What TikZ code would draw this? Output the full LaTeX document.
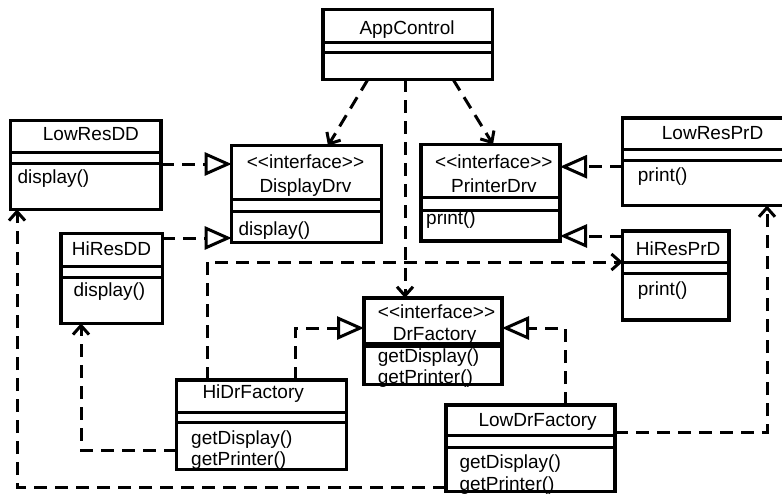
\documentclass[tikz,border=0pt]{standalone}
\usepackage{fontspec}
\setmainfont{Liberation Sans}
\usetikzlibrary{arrows.meta}

% class box: name, left, top, right, bottom (y grows downwards)
\newcommand{\umlclass}[5]{%
  \node[classbox, minimum width={#4-#2}, minimum height={#5-#3}, anchor=north west] (#1) at (#2,#3) {};}
% compartment separator across a class box at height #2
\newcommand{\umlsep}[2]{%
  \draw[sepline] (#1.west |- 0,#2) -- (#1.east |- 0,#2);}
% stereotype, with the angle brackets kept apart (no guillemet ligature)
\newcommand{\stereoif}{<\kern0pt<interface>\kern0pt>}

\tikzset{
  classbox/.style={draw, line width=3.2pt, inner sep=0pt, outer sep=0pt},
  sepline/.style={line width=3pt},
  lbl/.style={font=\fontsize{19}{22}\selectfont, inner sep=0pt, anchor=base west},
  dep/.style={line width=3pt, dash pattern=on 13pt off 8pt,
    -{Straight Barb[length=9pt,width=16pt]}},
  real/.style={line width=3pt, dash pattern=on 13pt off 8pt,
    -{Triangle[open, length=27pt, width=23pt]}},
}

\begin{document}
\begin{tikzpicture}[x=1pt, y=-1pt]
\useasboundingbox (0,0) rectangle (782,493);
\clip (0,0) rectangle (782,493);

% ---- texts ----
\node[lbl] (tApp) at (359.3,34.3) {AppControl};

\node[lbl] (tLowDD) at (42.7,140) {LowResDD};
\node[lbl] (mLowDD) at (17.3,183.3) {display()};

\node[lbl] (sDisp) at (246.7,168.3) {\stereoif};
\node[lbl] (tDisp) at (259.3,192.3) {DisplayDrv};
\node[lbl] (mDisp) at (238.3,235) {display()};

\node[lbl] (sPrn) at (435,168.3) {\stereoif};
\node[lbl] (tPrn) at (451,192.3) {PrinterDrv};
\node[lbl] (mPrn) at (426,224) {print()};

\node[lbl] (tLowPr) at (661.7,139.3) {LowResPrD};
\node[lbl] (mLowPr) at (637.7,181.7) {print()};

\node[lbl] (tHiPr) at (635.7,255) {HiResPrD};
\node[lbl] (mHiPr) at (637.7,295) {print()};

\node[lbl] (tHiDD) at (71.7,255) {HiResDD};
\node[lbl] (mHiDD) at (73.3,296.7) {display()};

\node[lbl] (sFac) at (377.7,318.3) {\stereoif};
\node[lbl] (tFac) at (392.7,340.7) {DrFactory};
\node[lbl] (mFacA) at (377.7,362.3) {getDisplay()};
\node[lbl] (mFacB) at (377.7,383.3) {getPrinter()};

\node[lbl] (tHiFac) at (202.3,398.3) {HiDrFactory};
\node[lbl] (mHiFacA) at (191,444.3) {getDisplay()};
\node[lbl] (mHiFacB) at (191,465) {getPrinter()};

\node[lbl] (tLowFac) at (478.3,426.7) {LowDrFactory};
\node[lbl] (mLowFacA) at (459.3,468) {getDisplay()};
\node[lbl] (mLowFacB) at (459.3,490) {getPrinter()};

% ---- class boxes ----
\umlclass{app}{323}{9.3}{492.7}{79.3}
\umlsep{app}{42}\umlsep{app}{52}

\umlclass{lowdd}{10.7}{120.7}{161}{209.3}
\umlsep{lowdd}{152.7}\umlsep{lowdd}{163.3}

\umlclass{disp}{231.7}{145.7}{381.7}{242.5}
\umlsep{disp}{199}\umlsep{disp}{211}

\umlclass{prn}{421}{144.3}{560}{241}
\umlsep{prn}{197.3}\umlsep{prn}{210}

\umlclass{lowprd}{622.7}{118}{792}{205.5}
\umlsep{lowprd}{149}\umlsep{lowprd}{160}

\umlclass{hiprd}{622.7}{231}{729}{320}
\umlsep{hiprd}{262.7}\umlsep{hiprd}{273.3}

\umlclass{hidd}{61}{233.3}{162.3}{323.3}
\umlsep{hidd}{266}\umlsep{hidd}{277.3}

\umlclass{fac}{364}{298}{502}{384.5}
\umlsep{fac}{343}\umlsep{fac}{346.5}

\umlclass{hifac}{176.7}{380}{346.7}{469.3}
\umlsep{hifac}{412.7}\umlsep{hifac}{422.7}

\umlclass{lowfac}{446}{405}{615}{491.5}
\umlsep{lowfac}{435.7}\umlsep{lowfac}{447.3}

% ---- dependencies ----
\draw[dep] (368,0 |- app.south) -- (328,0 |- disp.north);
\draw[dep] (453,0 |- app.south) -- (493,0 |- prn.north);
\draw[dep] (405,0 |- app.south) -- (405,0 |- fac.north);
\draw[dep] (207,0 |- hifac.north) |- (hiprd.west |- 0,262);
\draw[dep] (hifac.west |- 0,450) -| (81,0 |- hidd.south);
\draw[dep] (lowfac.east |- 0,432) -| (767,0 |- lowprd.south);
\draw[dep] (lowfac.west |- 0,487) -| (17,0 |- lowdd.south);

% ---- realizations ----
\draw[real] (lowdd.east |- 0,164) -- (disp.west |- 0,164);
\draw[real] (hidd.east |- 0,238) -- (disp.west |- 0,238);
\draw[real] (lowprd.west |- 0,166.7) -- (prn.east |- 0,166.7);
\draw[real] (hiprd.west |- 0,236) -- (prn.east |- 0,236);
\draw[real] (295,0 |- hifac.north) |- (fac.west |- 0,328);
\draw[real] (565,0 |- lowfac.north) |- (fac.east |- 0,328);
\end{tikzpicture}
\end{document}
